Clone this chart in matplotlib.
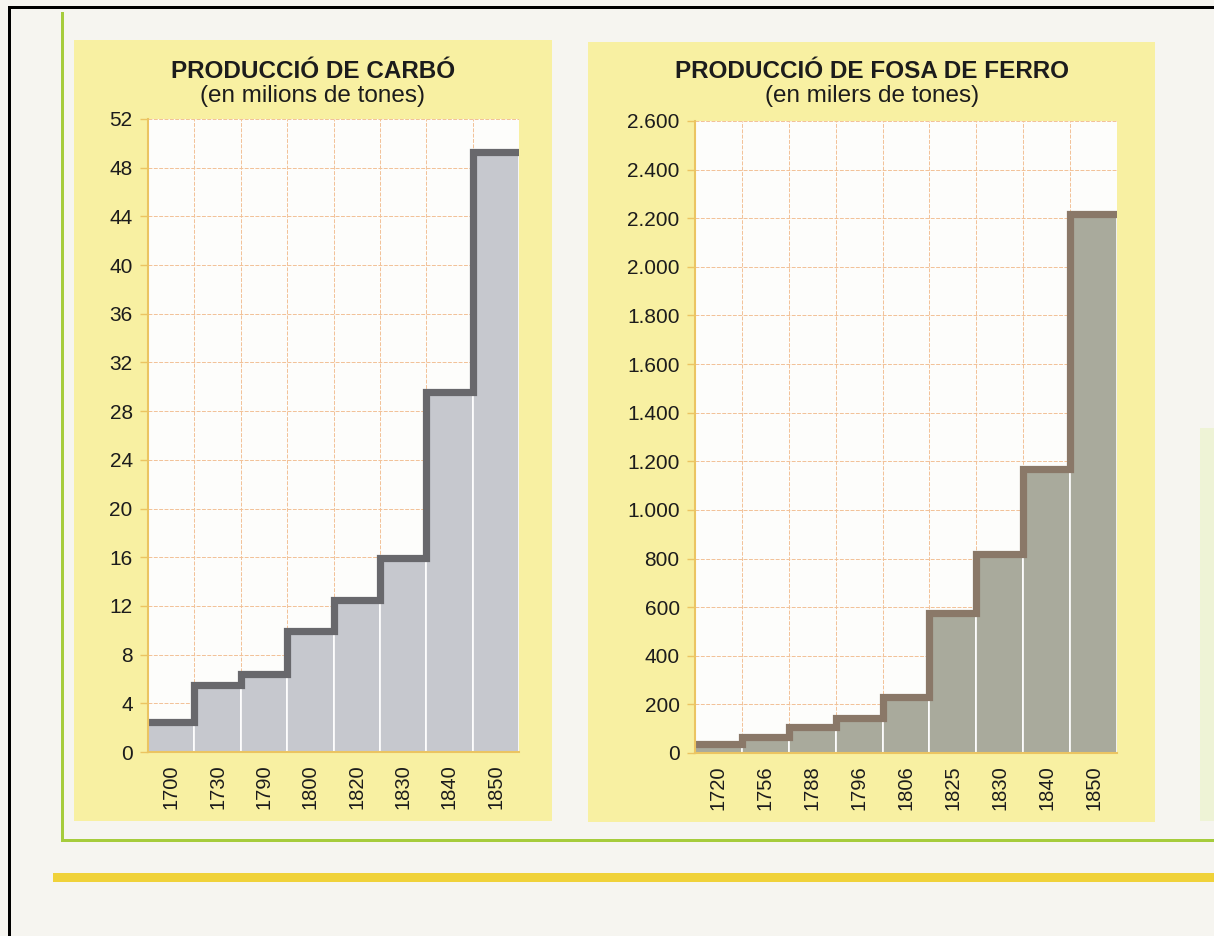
import numpy as np
import matplotlib
matplotlib.use("Agg")
import matplotlib.pyplot as plt
from matplotlib.patches import Rectangle

# --- data -------------------------------------------------------------
coal_years = ["1700", "1730", "1790", "1800", "1820", "1830", "1840", "1850"]
coal_values = [2.5, 5.5, 6.4, 9.9, 12.5, 15.9, 29.6, 49.3]   # milions de tones
coal_ticks = list(range(0, 53, 4))

iron_years = ["1720", "1756", "1788", "1796", "1806", "1825", "1830", "1840", "1850"]
iron_values = [38, 66, 108, 142, 229, 577, 820, 1167, 2217]  # milers de tones
iron_ticks = list(range(0, 2601, 200))

W, H = 1214, 936
PAGE = "#f6f5f0"
PANEL = "#f8f0a2"
GRID = "#f2c196"
SPINE = "#ebc462"
TEXT = "#1c1c1c"

plt.rcParams["font.family"] = ["Liberation Sans", "DejaVu Sans"]


def frac(x0, y0, x1, y1):
    """pixel box (top-left origin) -> figure fraction [l, b, w, h]"""
    return [x0 / W, 1 - y1 / H, (x1 - x0) / W, (y1 - y0) / H]


def add_box(fig, x0, y0, x1, y1, color, z=-1):
    l, b, w, h = frac(x0, y0, x1, y1)
    fig.patches.append(Rectangle((l, b), w, h, transform=fig.transFigure,
                                 facecolor=color, edgecolor="none", zorder=z))


def step_chart(ax, labels, values, ticks, bar_color, line_color, fmt):
    n = len(values)
    x = np.arange(n)
    ax.set_facecolor("#fdfdfb")
    ax.set_axisbelow(True)
    ax.bar(x, values, width=1.0, color=bar_color, edgecolor="white",
           linewidth=1.2, zorder=2)
    edges = np.arange(n + 1) - 0.5
    ax.step(edges, list(values) + [values[-1]], where="post", color=line_color,
            lw=5.2, solid_joinstyle="miter", zorder=3)
    ax.set_xlim(-0.5, n - 0.5)
    ax.set_ylim(ticks[0], ticks[-1])
    ax.set_yticks(ticks)
    ax.set_yticklabels([fmt(t) for t in ticks], fontsize=15, color=TEXT)
    ax.set_xticks(x)
    ax.set_xticklabels(labels, rotation=90, fontsize=14.5, color=TEXT)
    ax.set_xticks(edges, minor=True)
    ax.tick_params(axis="x", which="both", length=0, pad=9)
    ax.tick_params(axis="y", length=6, width=1, color=SPINE, pad=5)
    ax.grid(axis="y", color=GRID, lw=0.7, ls=(0, (4, 1.5)))
    ax.grid(axis="x", which="minor", color=GRID, lw=0.7, ls=(0, (4, 1.5)))
    for s in ("top", "right"):
        ax.spines[s].set_visible(False)
    for s in ("left", "bottom"):
        ax.spines[s].set_color(SPINE)
        ax.spines[s].set_linewidth(1.5)
        ax.spines[s].set_zorder(4)


fig = plt.figure(figsize=(W / 100, H / 100), dpi=100, facecolor=PAGE)

# page decoration (scanned textbook page)
add_box(fig, 1200, 428, W, 821, "#eef3d6")
add_box(fig, 74, 40, 552, 821, PANEL)
add_box(fig, 588, 42, 1155, 822, PANEL)
add_box(fig, 61, 12, 64, 841, "#a6cc3c")
add_box(fig, 61, 839, W, 842, "#a6cc3c")
add_box(fig, 53, 873, W, 882, "#f0d23a")
add_box(fig, 8, 6, W, 9, "black")
add_box(fig, 8, 6, 11, H, "black")

ax1 = fig.add_axes(frac(148, 119, 519, 752))
step_chart(ax1, coal_years, coal_values, coal_ticks, "#c6c8ce", "#68686c",
           lambda v: f"{v}")

ax2 = fig.add_axes(frac(695, 121, 1117, 753))
step_chart(ax2, iron_years, iron_values, iron_ticks, "#a9aa9c", "#8a7868",
           lambda v: f"{v:,}".replace(",", "."))

fig.text(313 / W, 1 - 78 / H, "PRODUCCIÓ DE CARBÓ", ha="center", va="baseline",
         fontsize=17.5, fontweight="bold", color=TEXT)
fig.text(313 / W, 1 - 102 / H, "(en milions de tones)", ha="center", va="baseline",
         fontsize=17.5, color=TEXT)
fig.text(872 / W, 1 - 78 / H, "PRODUCCIÓ DE FOSA DE FERRO", ha="center", va="baseline",
         fontsize=17.5, fontweight="bold", color=TEXT)
fig.text(872 / W, 1 - 102 / H, "(en milers de tones)", ha="center", va="baseline",
         fontsize=17.5, color=TEXT)

fig.savefig("out.png", dpi=100, facecolor=PAGE)
